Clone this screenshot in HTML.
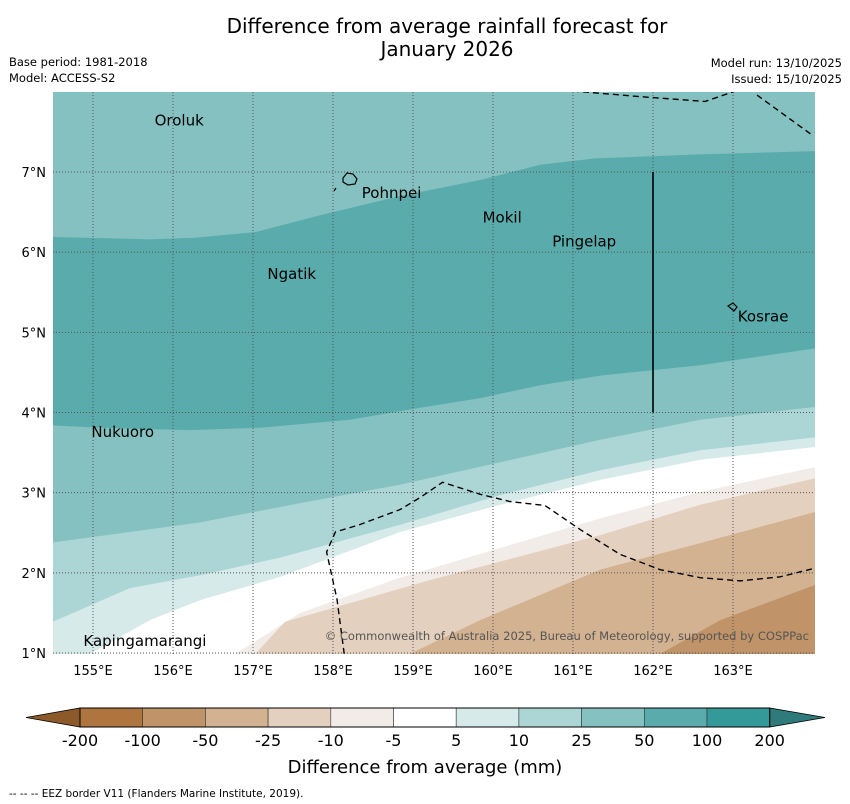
<!DOCTYPE html>
<html><head><meta charset="utf-8"><style>
body{margin:0;background:#fff;font-family:"DejaVu Sans","Liberation Sans",sans-serif}
svg{display:block}
</style></head><body>
<svg width="850" height="804" viewBox="0 0 850 804" xmlns="http://www.w3.org/2000/svg" font-family="DejaVu Sans, Liberation Sans, sans-serif">
<text x="447" y="33" font-size="20" text-anchor="middle">Difference from average rainfall forecast for</text>
<text x="447" y="56" font-size="20" text-anchor="middle">January 2026</text>
<text x="9" y="66" font-size="11.5">Base period: 1981-2018</text>
<text x="9" y="82" font-size="11.5">Model: ACCESS-S2</text>
<text x="842" y="67" font-size="11.5" text-anchor="end">Model run: 13/10/2025</text>
<text x="842" y="83" font-size="11.5" text-anchor="end">Issued: 15/10/2025</text>
<defs><clipPath id="mc"><rect x="53" y="92" width="762" height="562"/></clipPath></defs>
<g id="map" clip-path="url(#mc)"></g>
<g id="axes"></g>
<g id="cbar"></g>
<text x="425" y="773" font-size="18" text-anchor="middle">Difference from average (mm)</text>
<text x="9" y="797" font-size="10.5">--  --  -- EEZ border V11 (Flanders Marine Institute, 2019).</text>
</svg>
<script>
const bandColors=["#84c1c0","#5aabab","#84c1c0","#acd6d5","#d6eae9","#ffffff","#f2ece8","#e4d0bf","#d3b291","#c09468"];
const bA=[[154.5,6.19],[155.71,6.16],[156.28,6.18],[157.03,6.25],[157.84,6.46],[158.84,6.70],[159.84,6.90],[160.59,7.09],[161.28,7.17],[162.59,7.22],[164.03,7.26]];
const bB=[[154.5,3.84],[155.09,3.81],[156.21,3.78],[157.09,3.81],[158.21,3.91],[159.09,4.06],[159.84,4.18],[160.59,4.34],[161.34,4.46],[162.59,4.59],[164.03,4.80]];
const bC=[[154.5,2.38],[155.46,2.51],[156.34,2.63],[157.59,2.87],[158.84,3.10],[160.09,3.38],[161.34,3.66],[162.59,3.91],[164.03,4.07]];
const bD=[[154.5,1.39],[155.46,1.81],[156.34,1.97],[157.34,2.19],[158.84,2.60],[160.09,2.97],[161.34,3.28],[162.59,3.53],[164.03,3.69]];
const bE=[[154.96,0.99],[155.71,1.41],[156.34,1.66],[157.34,1.95],[158.84,2.51],[160.09,2.85],[161.34,3.16],[162.59,3.41],[164.03,3.57]];
const bF=[[156.78,0.99],[157.59,1.50],[158.84,1.94],[160.09,2.31],[161.34,2.68],[162.59,3.01],[164.03,3.32]];
const bG=[[157.03,0.99],[157.40,1.39],[159.21,1.91],[161.34,2.47],[162.59,2.85],[164.03,3.18]];
const bH=[[158.96,0.99],[159.84,1.41],[161.34,2.04],[162.59,2.37],[164.03,2.76]];
const bI=[[162.09,0.99],[162.84,1.41],[164.03,1.85]];
const eez1=[[158.14,0.99],[158.05,1.67],[157.92,2.26],[158.03,2.51],[158.33,2.60],[158.84,2.79],[159.09,2.94],[159.37,3.13],[159.84,2.98],[160.21,2.89],[160.65,2.84],[161.09,2.54],[161.59,2.23],[162.09,2.04],[162.59,1.94],[163.09,1.90],[163.59,1.95],[164.03,2.06]];
const eez2=[[161.00,8.01],[161.84,7.94],[162.65,7.88],[163.03,8.01]];
const eez3=[[163.30,7.96],[163.99,7.46]];
const places=["Oroluk","Pohnpei","Mokil","Pingelap","Ngatik","Kosrae","Nukuoro","Kapingamarangi"];
const placeLon=[155.77,158.36,159.87,160.74,157.18,163.06,154.98,154.88];
const placeLat=[7.64,6.74,6.43,6.13,5.73,5.20,3.76,1.15];
const lonTicks=[155,156,157,158,159,160,161,162,163];
const latTicks=[1,2,3,4,5,6,7];
const cbLabels=["-200","-100","-50","-25","-10","-5","5","10","25","50","100","200"];
const cbColors=["#ae753e","#c09468","#d3b291","#e4d0bf","#f2ece8","#ffffff","#d6eae9","#acd6d5","#84c1c0","#5aabab","#339999"];
const NS="http://www.w3.org/2000/svg";
const X=lon=>93+(lon-155)*80, Y=lat=>172-(lat-7)*80.17;
function mk(tag,attrs,parent){const e=document.createElementNS(NS,tag);for(const k in attrs)e.setAttribute(k,attrs[k]);parent.appendChild(e);return e;}
const map=document.getElementById('map'), axes=document.getElementById('axes'), cb=document.getElementById('cbar');
let r=mk('rect',{x:53,y:92,width:762,height:562,fill:bandColors[0]},map);


const bounds=[bA,bB,bC,bD,bE,bF,bG,bH,bI];
const names=['band-50-100','band-25-50','band-10-25','band-5-10','band-neutral','band-minus5-10','band-minus10-25','band-minus25-50','band-minus50-100'];
bounds.forEach((b,i)=>{
  let pts=b.map(p=>X(p[0])+','+Y(p[1]));
  const last=b[b.length-1], first=b[0];
  pts.push('830,'+Y(last[1]),'830,670',X(first[0])+',670');
  const p=mk('polygon',{points:pts.join(' '),fill:bandColors[i+1]},map);
  
  
});
lonTicks.forEach(l=>{
  const g=mk('line',{x1:X(l),x2:X(l),y1:92,y2:654,stroke:'#555','stroke-width':1,'stroke-dasharray':'1,2'},map);
  
  
  const t=mk('text',{x:X(l),y:675,'font-size':13,'text-anchor':'middle'},axes);t.textContent=l+'°E';
  
  
});
latTicks.forEach(l=>{
  const g=mk('line',{x1:53,x2:815,y1:Y(l),y2:Y(l),stroke:'#555','stroke-width':1,'stroke-dasharray':'1,2'},map);
  
  
  const t=mk('text',{x:46,y:Y(l)+5,'font-size':13,'text-anchor':'end'},axes);t.textContent=l+'°N';
  
  
});
[eez1,eez2,eez3].forEach(e=>{
  const p=mk('polyline',{points:e.map(q=>X(q[0])+','+Y(q[1])).join(' '),fill:'none',stroke:'#000','stroke-width':1.4,'stroke-dasharray':'6,4'},map);
  
  
});
let vl=mk('line',{x1:X(162),x2:X(162),y1:Y(7),y2:Y(4),stroke:'#000','stroke-width':1.6},map);


let isl=mk('path',{d:'M343,178 l4,-5 l6,1 l4,5 l-2,5 l-7,1 l-5,-3 z M334,191 l2,-3 M728,306 l5,-3 l4,4 l-3,4 z',fill:'none',stroke:'#000','stroke-width':1.2},map);


places.forEach((n,i)=>{
  const t=mk('text',{x:X(placeLon[i]),y:Y(placeLat[i])+5,'font-size':15,fill:'#000'},map);t.textContent=n;
  
  
});
let cp=mk('text',{x:809,y:640,'font-size':11.5,'text-anchor':'end',fill:'#555'},map);cp.textContent='© Commonwealth of Australia 2025, Bureau of Meteorology, supported by COSPPac';


const cx0=80,cw=62.7,cy=708,ch=19;
let lt=mk('polygon',{points:`${cx0},${cy} ${cx0},${cy+ch} 26,${cy+ch/2}`,fill:'#8c5a2a',stroke:'#000','stroke-width':0.8},cb);


let rt=mk('polygon',{points:`${cx0+11*cw},${cy} ${cx0+11*cw},${cy+ch} 825,${cy+ch/2}`,fill:'#2f7a7a',stroke:'#000','stroke-width':0.8},cb);


cbColors.forEach((c,i)=>{
  const b=mk('rect',{x:cx0+i*cw,y:cy,width:cw,height:ch,fill:c,stroke:'#333','stroke-width':0.6},cb);
  
  
});
let fr=mk('rect',{x:cx0,y:cy,width:11*cw,height:ch,fill:'none',stroke:'#000','stroke-width':1},cb);


cbLabels.forEach((l,i)=>{
  const t=mk('text',{x:cx0+i*cw,y:746,'font-size':16,'text-anchor':'middle'},cb);t.textContent=l;
  
  
});
</script>
</body></html>
